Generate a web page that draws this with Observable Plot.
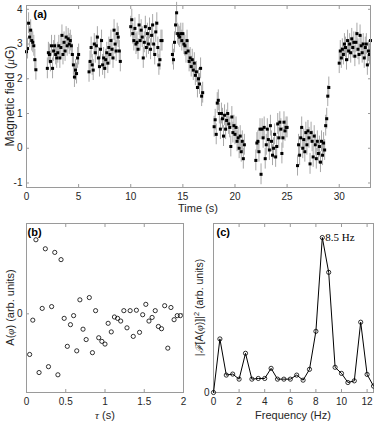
<!DOCTYPE html>
<html><head><meta charset="utf-8">
<script src="https://cdn.jsdelivr.net/npm/d3@7"></script>
<script src="https://cdn.jsdelivr.net/npm/@observablehq/plot@0.6"></script>
<style>
body{margin:0;background:#fff}
#wrap{position:relative;width:374px;height:421px;overflow:hidden}
#wrap svg{position:absolute}
</style></head><body><div id="wrap"></div>
<script>
// ---------- Panel (a): magnetic field vs time ----------
const segStartA = [0, 2, 6, 10, 14, 18, 22, 26, 30];
const stepA = 0.1;
const errA = 0.3;
const seg1 = [2.78, 2.87, 3.6, 3.2, 3.4, 3.1, 3.05, 2.95, 2.55, 2.26];
const seg2 = [2.3, 2.75, 2.7, 2.5, 2.95, 2.3, 2.8, 2.95, 2.7, 2.6, 2.75, 2.95, 2.6, 2.9, 3.25, 2.7, 3.05, 2.8, 3.2, 2.95, 3.15, 3.0, 3.1, 2.95, 2.7, 2.4, 2.05, 2.25, 2.15, 2.6, 2.7];
const seg3 = [2.2, 2.5, 2.9, 2.4, 2.25, 3.0, 2.75, 2.95, 3.2, 2.6, 2.35, 2.85, 3.1, 2.4, 2.6, 2.3, 2.55, 2.75, 2.45, 2.9, 2.7, 3.1, 2.85, 2.6, 3.4, 3.0, 2.8, 3.3, 3.2, 2.8, 2.5];
const seg4 = [3.5, 3.7, 3.3, 3.1, 3.45, 3.0, 3.05, 2.85, 3.55, 3.1, 3.4, 3.2, 2.6, 3.05, 3.5, 2.9, 3.3, 3.0, 3.45, 2.85, 3.25, 3.55, 3.0, 2.7, 3.35, 3.6, 2.9, 2.4, 2.55, 3.1, 3.1];
const seg5 = [2.7, 2.55, 3.05, 3.55, 3.9, 3.3, 3.25, 3.2, 3.3, 3.1, 3.3, 3.0, 2.95, 2.75, 3.1, 2.8, 2.5, 2.6, 2.35, 2.55, 2.25, 2.45, 2.1, 2.2, 1.75, 2.0, 1.85, 2.3, 1.5, 1.6];
const seg6 = [0.62, 0.82, 0.4, 1.3, 1.38, 1.0, 0.55, 1.0, 0.85, 0.35, 0.95, 0.55, 0.8, 1.0, 0.7, 0.6, 0.05, 0.9, 0.45, 0.65, 0.4, 0.6, 0.2, 0.3, 0.0, 0.35, -0.1, 0.2, -0.3, 0.1];
const seg7 = [-0.35, 0.15, 0.2, -0.1, 0.55, -0.75, 0.55, 0.3, 0.6, -0.3, 0.1, 0.55, 0.25, -0.05, 0.65, 0.2, -0.2, 0.0, 0.4, -0.25, 0.05, 0.7, 0.3, 0.75, 0.55, -0.15, 0.3, 0.75, 0.5, 0.6, 0.6];
const seg8 = [-0.5, 0.1, -0.2, 0.3, 0.6, 0.0, 0.25, -0.1, 0.45, 0.1, 0.5, 0.3, -0.45, 0.45, 0.2, -0.25, 0.35, 0.1, -0.3, 0.2, -0.15, 0.05, -0.4, 0.2, -0.2, 0.15, -0.05, 0.65, 0.85, 1.5, 1.75];
const seg9 = [2.45, 2.8, 2.6, 2.85, 2.7, 3.0, 2.9, 2.55, 3.1, 2.8, 3.0, 2.75, 3.15, 2.9, 3.05, 2.65, 3.05, 3.3, 2.85, 2.7, 3.25, 2.95, 2.75, 3.0, 2.6, 2.9, 3.0, 2.4, 2.8, 2.7, 3.1];
const segValuesA = [seg1, seg2, seg3, seg4, seg5, seg6, seg7, seg8, seg9];
const timeTicks = [0, 5, 10, 15, 20, 25, 30];
const fieldTicks = [-1, 0, 1, 2, 3, 4];

// ---------- Panel (b): A(phi) vs tau ----------
const tauStep = 0.04;
const ampB = [-0.45, -0.07, 0.82, -0.65, 0.06, 0.72, -0.585, 0.08, 0.68, -0.675, 0.6, -0.05, -0.36, -0.12, -0.02, -0.41, 0.155, -0.17, -0.285, 0.18, -0.43, 0.035, -0.265, -0.305, -0.335, -0.105, -0.2, -0.035, -0.05, -0.08, 0.035, -0.155, 0.035, -0.25, 0.04, -0.205, -0.01, 0.105, -0.08, -0.04, 0.035, -0.14, -0.165, 0.09, -0.38, 0.07, -0.065, -0.02, -0.02];
const tauTicks = [0, 0.5, 1, 1.5, 2];
const ampTicks = [0];

// ---------- Panel (c): power spectrum ----------
const freqStep = 0.5;
const powerC = [0, 0.317, 0.103, 0.109, 0.079, 0.232, 0.079, 0.083, 0.083, 0.143, 0.079, 0.079, 0.079, 0.103, 0.073, 0.137, 0.362, 0.917, 0.711, 0.149, 0.113, 0.059, 0.069, 0.416, 0.107, 0.038];
const freqTicks = [0, 2, 4, 6, 8, 10, 12];
const powerTicks = [0];
const peakLabel = "8.5 Hz";

// ---------- styling ----------
const FONT = "'Liberation Sans', Arial, Helvetica, sans-serif";
const SERIF = "'Liberation Serif', 'Times New Roman', serif";
const FRAME = "#9a9a9a";
const INK = "#262626";

const dataA = segStartA.flatMap((t0, s) => segValuesA[s].map((v, i) => ({t: t0 + i * stepA, v})));
const dataB = ampB.map((a, i) => ({tau: (i + 1) * tauStep, a}));
const dataC = powerC.map((p, i) => ({f: i * freqStep, p}));
const peak = dataC.reduce((m, d) => d.p > m.p ? d : m, dataC[0]);

const fmt = d => `${d}`;
function boxAxes(xt, yt) {
  const blank = () => "";
  return [
    Plot.axisX(xt, {anchor: "bottom", tickSize: 0, tickPadding: 5, fill: INK, tickFormat: fmt}),
    Plot.axisY(yt, {anchor: "left", tickSize: 0, tickPadding: 4, fill: INK, tickFormat: fmt}),
    Plot.axisX(xt, {anchor: "bottom", tickSize: 3, dy: -3, tickFormat: blank, stroke: FRAME}),
    Plot.axisX(xt, {anchor: "top", tickSize: 3, dy: 3, tickFormat: blank, stroke: FRAME}),
    Plot.axisY(yt, {anchor: "left", tickSize: 3, dx: 3, tickFormat: blank, stroke: FRAME}),
    Plot.axisY(yt, {anchor: "right", tickSize: 3, dx: -3, tickFormat: blank, stroke: FRAME})
  ];
}
const baseStyle = {fontFamily: FONT, fontSize: "10px", color: INK, background: "transparent", overflow: "visible"};

function addText(svg, {x, y, rotate = 0, size = 11, parts, anchor = "middle"}) {
  const t = d3.select(svg).append("text")
    .attr("transform", `translate(${x},${y}) rotate(${rotate})`)
    .attr("fill", INK)
    .style("text-anchor", anchor)
    .style("font-size", `${size}px`)
    .style("font-family", FONT)
    .style("font-style", "normal");
  for (const raw of parts) {
    const p = typeof raw === "string" ? {t: raw} : raw;
    const ts = t.append("tspan").text(p.t);
    if (p.italic === true) ts.style("font-style", "italic").style("font-family", SERIF);
    if (p.family) ts.style("font-family", p.family);
    if (p.sup === true) ts.attr("baseline-shift", "super").style("font-size", `${size * 0.7}px`);
  }
}

const wrap = document.getElementById("wrap");

// Panel (a)
const plotA = Plot.plot({
  width: 374, height: 215,
  marginLeft: 26, marginRight: 4, marginTop: 5, marginBottom: 28,
  x: {domain: [0, 33], label: null},
  y: {domain: [-1.13, 4.11], label: null},
  style: baseStyle,
  marks: [
    Plot.ruleX(dataA, {x: "t", y1: d => d.v - errA, y2: d => d.v + errA, stroke: "#a8a8a8", strokeWidth: 1}),
    Plot.dot(dataA, {x: "t", y: "v", symbol: "square", r: 1.7, fill: "#000"}),
    Plot.frame({stroke: FRAME}),
    ...boxAxes(timeTicks, fieldTicks),
    Plot.text(["(a)"], {frameAnchor: "top-left", dx: 7, dy: 9, lineAnchor: "middle", textAnchor: "start", fontWeight: "bold", fontSize: 11, fill: "#000"})
  ]
});
plotA.style.left = "0px"; plotA.style.top = "0px";
wrap.appendChild(plotA);
addText(plotA, {x: 14, y: 96, rotate: -90, size: 12, parts: ["Magnetic field (", {t: "μ", italic: true}, "G)"]});
addText(plotA, {x: 198, y: 212, parts: ["Time (s)"]});

// Panel (b)
const plotB = Plot.plot({
  width: 190, height: 206,
  marginLeft: 26, marginRight: 7, marginTop: 8, marginBottom: 29,
  x: {domain: [0, 2], label: null},
  y: {domain: [-0.871, 1], label: null},
  style: baseStyle,
  marks: [
    Plot.frame({stroke: FRAME}),
    ...boxAxes(tauTicks, ampTicks),
    Plot.dot(dataB, {x: "tau", y: "a", r: 2.1, stroke: "#000", strokeWidth: 0.8}),
    Plot.text(["(b)"], {frameAnchor: "top-left", dx: 1, dy: 8.5, lineAnchor: "middle", textAnchor: "start", fontWeight: "bold", fontSize: 11, fill: "#000"})
  ]
});
plotB.style.left = "0px"; plotB.style.top = "215px";
wrap.appendChild(plotB);
addText(plotB, {x: 14, y: 92.5, rotate: -90, parts: ["A(", {t: "φ", italic: true}, ") (arb. units)"]});
addText(plotB, {x: 105, y: 204, parts: [{t: "τ", italic: true}, " (s)"]});

// Panel (c)
const plotC = Plot.plot({
  width: 184, height: 206,
  marginLeft: 23, marginRight: 1, marginTop: 8, marginBottom: 29,
  x: {domain: [0, 12.5], label: null},
  y: {domain: [0, 1], label: null},
  style: baseStyle,
  marks: [
    Plot.frame({stroke: FRAME}),
    ...boxAxes(freqTicks, powerTicks),
    Plot.line(dataC, {x: "f", y: "p", stroke: "#000", strokeWidth: 1}),
    Plot.dot(dataC, {x: "f", y: "p", r: 2.1, stroke: "#000", strokeWidth: 0.8}),
    Plot.text([peak], {x: "f", y: "p", text: () => peakLabel, dx: 3, dy: 0, textAnchor: "start", lineAnchor: "middle", fontFamily: SERIF, fontSize: 11, fill: "#000"}),
    Plot.text(["(c)"], {frameAnchor: "top-left", dx: 3, dy: 8.5, lineAnchor: "middle", textAnchor: "start", fontWeight: "bold", fontSize: 11, fill: "#000"})
  ]
});
plotC.style.left = "190px"; plotC.style.top = "215px";
wrap.appendChild(plotC);
addText(plotC, {x: 13, y: 92.5, rotate: -90, size: 10.5, parts: ["|", {t: "ℱ", family: "'DejaVu Serif', serif", italic: true}, "[A(", {t: "φ", italic: true}, ")]|", {t: "2", sup: true}, " (arb. units)"]});
addText(plotC, {x: 103, y: 204, parts: ["Frequency (Hz)"]});
</script></body></html>
